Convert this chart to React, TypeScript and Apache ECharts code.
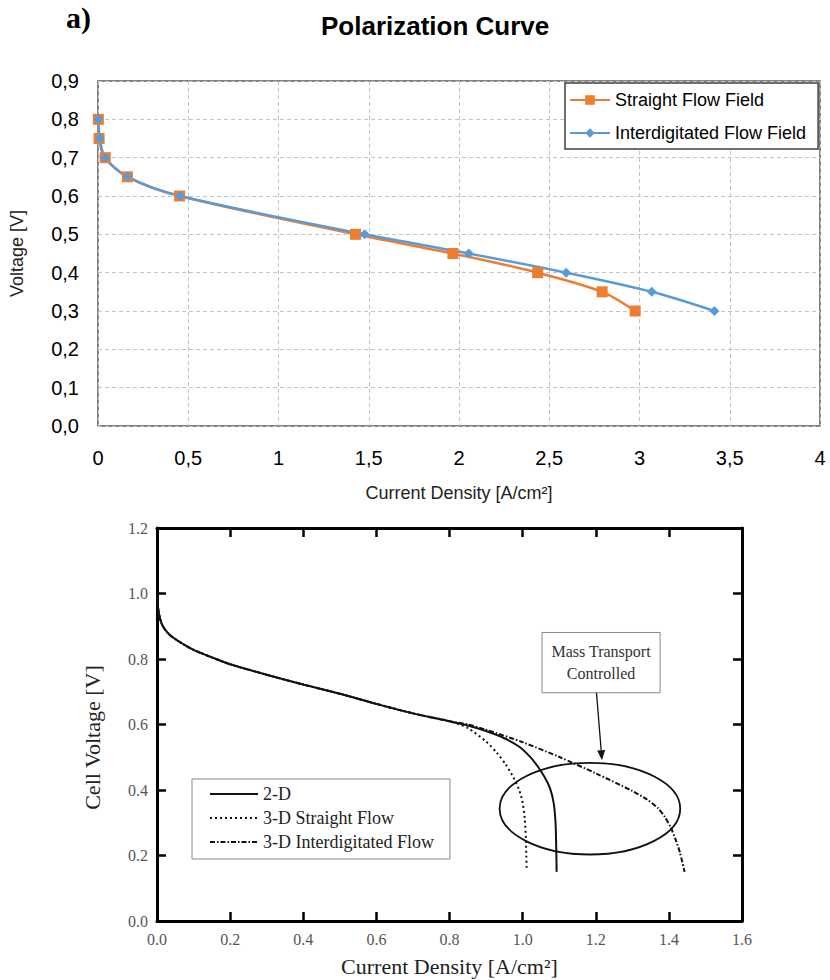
import React, { useEffect, useRef } from "react";
import * as echarts from "echarts";

// ---------- Top chart data (Polarization Curve) ----------
const straightX = [0.002, 0.006, 0.04, 0.163, 0.452, 1.427, 1.966, 2.436, 2.793, 2.976];
const straightY = [0.8, 0.75, 0.7, 0.65, 0.6, 0.5, 0.45, 0.4, 0.35, 0.3];
const interX = [0.002, 0.01, 0.039, 0.163, 0.455, 1.477, 2.054, 2.594, 3.068, 3.415];
const interY = [0.8, 0.75, 0.7, 0.65, 0.6, 0.5, 0.45, 0.4, 0.35, 0.3];

// ---------- Bottom chart data (Cell Voltage) ----------
const commonX = [0, 0.002, 0.006, 0.012, 0.02, 0.035, 0.05, 0.075, 0.1, 0.15, 0.2, 0.3, 0.4, 0.5, 0.6, 0.7, 0.8];
const commonY = [0.995, 0.965, 0.935, 0.91, 0.893, 0.873, 0.861, 0.843, 0.828, 0.805, 0.784, 0.752, 0.722, 0.694, 0.663, 0.634, 0.61];
const twoDTailX = [0.85, 0.9, 0.95, 0.99, 1.02, 1.04, 1.06, 1.075, 1.085, 1.09, 1.092, 1.093];
const twoDTailY = [0.597, 0.58, 0.558, 0.533, 0.502, 0.474, 0.44, 0.405, 0.36, 0.3, 0.22, 0.15];
const straight3DTailX = [0.85, 0.9, 0.93, 0.955, 0.975, 0.99, 1.0, 1.006, 1.009, 1.01, 1.011];
const straight3DTailY = [0.589, 0.548, 0.513, 0.476, 0.438, 0.402, 0.362, 0.31, 0.25, 0.2, 0.16];
const inter3DTailX = [0.85, 0.9, 1.0, 1.1, 1.2, 1.3, 1.34, 1.37, 1.39, 1.405, 1.418, 1.43, 1.443];
const inter3DTailY = [0.6, 0.584, 0.546, 0.501, 0.451, 0.397, 0.371, 0.345, 0.316, 0.286, 0.25, 0.21, 0.15];

const topXTicks = { min: 0, max: 4, interval: 0.5 };
const topYTicks = { min: 0, max: 0.9, interval: 0.1 };
const botXTicks = { min: 0, max: 1.6, interval: 0.2 };
const botYTicks = { min: 0, max: 1.2, interval: 0.2 };

const pairs = (xs: number[], ys: number[]) => xs.map((x, i) => [x, ys[i]]);

const SANS = "'Liberation Sans', Arial, sans-serif";
const SERIF = "'Liberation Serif', 'Times New Roman', serif";

const comma = (v: number) => String(+v.toFixed(2)).replace(".", ",");

export default function App() {
  const ref = useRef<HTMLDivElement | null>(null);

  useEffect(() => {
    if (!ref.current) return;
    const chart = echarts.init(ref.current, undefined, { renderer: "svg" });

    const botAxisLine = { show: true, onZero: false, lineStyle: { color: "#000", width: 3 } };
    const botTick = { show: true, inside: true, length: 9, lineStyle: { color: "#000", width: 2.5 } };

    const option: any = {
      animation: false,
      backgroundColor: "#fff",
      title: [
        {
          text: "Polarization Curve",
          left: 316,
          top: 8,
          textStyle: { fontFamily: SANS, fontSize: 26, fontWeight: "bold", color: "#000" },
        },
      ],
      grid: [
        { left: 98, top: 81, width: 722, height: 345, show: true, borderColor: "#595959", borderWidth: 1.5, backgroundColor: "transparent" },
        { left: 157, top: 528, width: 585, height: 393 },
      ],
      legend: [
        {
          data: ["Straight Flow Field", "Interdigitated Flow Field"],
          orient: "vertical",
          left: 565,
          top: 83,
          padding: [8, 12, 7, 4],
          itemWidth: 40,
          itemHeight: 12,
          itemGap: 15,
          borderColor: "#404040",
          borderWidth: 1.5,
          backgroundColor: "#fff",
          textStyle: { fontFamily: SANS, fontSize: 18, color: "#000" },
        },
        {
          data: ["2-D", "3-D Straight Flow", "3-D Interdigitated Flow"],
          orient: "vertical",
          left: 192,
          top: 779,
          padding: [6, 16, 8, 17],
          itemWidth: 48,
          itemHeight: 10,
          itemGap: 6,
          borderColor: "#888",
          borderWidth: 1,
          itemStyle: { opacity: 0 },
          textStyle: { fontFamily: SERIF, fontSize: 18, color: "#222" },
        },
      ],
      xAxis: [
        {
          type: "value",
          gridIndex: 0,
          ...topXTicks,
          axisLine: { show: false },
          axisTick: { show: false },
          axisLabel: { fontFamily: SANS, fontSize: 20, color: "#000", margin: 22, formatter: (v: number) => comma(v) },
          splitLine: { show: true, lineStyle: { color: "#c4c4c4", type: [4, 3], width: 1 } },
          name: "Current Density [A/cm²]",
          nameLocation: "middle",
          nameGap: 58,
          nameTextStyle: { fontFamily: SANS, fontSize: 18, color: "#222" },
        },
        {
          type: "value",
          gridIndex: 1,
          ...botXTicks,
          position: "bottom",
          axisLine: botAxisLine,
          axisTick: botTick,
          axisLabel: { fontFamily: SERIF, fontSize: 16, color: "#555", margin: 10, formatter: (v: number) => v.toFixed(1) },
          splitLine: { show: false },
          name: "Current Density [A/cm²]",
          nameLocation: "middle",
          nameGap: 34,
          nameTextStyle: { fontFamily: SERIF, fontSize: 22, color: "#222" },
        },
        {
          type: "value",
          gridIndex: 1,
          ...botXTicks,
          position: "top",
          axisLine: botAxisLine,
          axisTick: botTick,
          axisLabel: { show: false },
          splitLine: { show: false },
        },
      ],
      yAxis: [
        {
          type: "value",
          gridIndex: 0,
          ...topYTicks,
          axisLine: { show: false },
          axisTick: { show: false },
          axisLabel: { fontFamily: SANS, fontSize: 20, color: "#000", margin: 19, formatter: (v: number) => v.toFixed(1).replace(".", ",") },
          splitLine: { show: true, lineStyle: { color: "#c4c4c4", type: [4, 3], width: 1 } },
          name: "Voltage [V]",
          nameLocation: "middle",
          nameGap: 72,
          nameTextStyle: { fontFamily: SANS, fontSize: 18, color: "#222" },
        },
        {
          type: "value",
          gridIndex: 1,
          ...botYTicks,
          position: "left",
          axisLine: botAxisLine,
          axisTick: botTick,
          axisLabel: { fontFamily: SERIF, fontSize: 16, color: "#555", margin: 9, formatter: (v: number) => v.toFixed(1) },
          splitLine: { show: false },
          name: "Cell Voltage [V]",
          nameLocation: "middle",
          nameGap: 54,
          nameTextStyle: { fontFamily: SERIF, fontSize: 22, color: "#222", padding: [0, 26, 0, 0] },
        },
        {
          type: "value",
          gridIndex: 1,
          ...botYTicks,
          position: "right",
          axisLine: botAxisLine,
          axisTick: botTick,
          axisLabel: { show: false },
          splitLine: { show: false },
        },
      ],
      series: [
        {
          name: "Straight Flow Field",
          type: "line",
          xAxisIndex: 0,
          yAxisIndex: 0,
          data: pairs(straightX, straightY),
          smooth: 0.3,
          symbol: "rect",
          symbolSize: 11,
          color: "#ED7D31",
          itemStyle: { color: "#ED7D31" },
          lineStyle: { color: "#ED7D31", width: 2.5 },
        },
        {
          name: "Interdigitated Flow Field",
          type: "line",
          xAxisIndex: 0,
          yAxisIndex: 0,
          data: pairs(interX, interY),
          smooth: 0.3,
          symbol: "diamond",
          symbolSize: 10,
          color: "#5B9BD5",
          itemStyle: { color: "#5B9BD5" },
          lineStyle: { color: "#5B9BD5", width: 2.5 },
        },
        {
          name: "3-D Interdigitated Flow",
          type: "line",
          xAxisIndex: 1,
          yAxisIndex: 1,
          data: pairs(commonX.concat(inter3DTailX), commonY.concat(inter3DTailY)),
          smooth: 0.25,
          symbol: "none",
          color: "#111",
          lineStyle: { color: "#111", width: 2, type: [5, 2, 1.5, 2] },
        },
        {
          name: "3-D Straight Flow",
          type: "line",
          xAxisIndex: 1,
          yAxisIndex: 1,
          data: pairs(commonX.concat(straight3DTailX), commonY.concat(straight3DTailY)),
          smooth: 0.25,
          symbol: "none",
          color: "#111",
          lineStyle: { color: "#111", width: 2, type: [2, 3] },
        },
        {
          name: "2-D",
          type: "line",
          xAxisIndex: 1,
          yAxisIndex: 1,
          data: pairs(commonX.concat(twoDTailX), commonY.concat(twoDTailY)),
          smooth: 0.25,
          symbol: "none",
          color: "#111",
          lineStyle: { color: "#111", width: 2 },
        },
      ],
    };

    chart.setOption(option);

    // Annotation (ellipse, label box, arrow) placed in data coordinates of the bottom grid
    const px = (x: number, y: number) => chart.convertToPixel({ xAxisIndex: 1, yAxisIndex: 1 } as any, [x, y]) as number[];
    const c = px(1.184, 0.343);
    const e = px(1.184 + 0.247, 0.343 + 0.14);
    const rx = e[0] - c[0];
    const ry = c[1] - e[1];
    const b1 = px(1.053, 0.881);
    const b2 = px(1.376, 0.697);
    const a1 = px(1.202, 0.697);
    const a2 = px(1.217, 0.491);
    const dx = a2[0] - a1[0];
    const dy = a2[1] - a1[1];
    const len = Math.hypot(dx, dy);
    const ux = dx / len;
    const uy = dy / len;
    const headL = 10;
    const headW = 4;
    const base = [a2[0] - ux * headL, a2[1] - uy * headL];

    chart.setOption({
      graphic: [
        {
          type: "text",
          left: 66,
          top: 2,
          style: { text: "a)", fontFamily: SERIF, fontWeight: "bold", fontSize: 30, fill: "#000" },
        },
        {
          type: "ellipse",
          shape: { cx: c[0], cy: c[1], rx, ry },
          style: { fill: "none", stroke: "#111", lineWidth: 1.8 },
        },
        {
          type: "rect",
          shape: { x: b1[0], y: b1[1], width: b2[0] - b1[0], height: b2[1] - b1[1] },
          style: { fill: "#fff", stroke: "#888", lineWidth: 1 },
        },
        {
          type: "text",
          x: (b1[0] + b2[0]) / 2,
          y: (b1[1] + b2[1]) / 2,
          style: {
            text: "Mass Transport\nControlled",
            fontFamily: SERIF,
            fontSize: 16,
            lineHeight: 22,
            fill: "#333",
            align: "center",
            verticalAlign: "middle",
          },
        },
        {
          type: "line",
          shape: { x1: a1[0], y1: a1[1], x2: base[0], y2: base[1] },
          style: { stroke: "#111", lineWidth: 1.3 },
        },
        {
          type: "polygon",
          shape: {
            points: [
              [a2[0], a2[1]],
              [base[0] - uy * headW, base[1] + ux * headW],
              [base[0] + uy * headW, base[1] - ux * headW],
            ],
          },
          style: { fill: "#111" },
        },
      ],
    });

    return () => chart.dispose();
  }, []);

  return (
    <div
      ref={ref}
      style={{ position: "absolute", left: 0, top: 0, width: 830, height: 980, background: "#fff" }}
    />
  );
}
